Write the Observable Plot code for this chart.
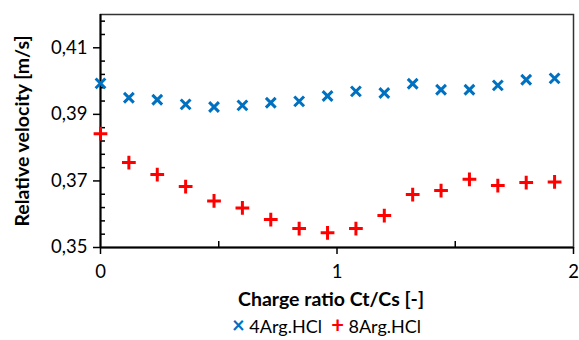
<!DOCTYPE html>
<html><head><meta charset="utf-8">
<script src="https://cdn.jsdelivr.net/npm/d3@7"></script>
<script src="https://cdn.jsdelivr.net/npm/@observablehq/plot@0.6"></script>
<style>
body{margin:0;background:#fff;font-family:Lato,"Open Sans",sans-serif;}
#legend{position:relative;height:26px;width:579px;font-size:18px;color:#000;}
#legend .in{position:absolute;left:232px;top:1px;white-space:nowrap;}
#legend .sym{font-weight:bold;font-size:22px;line-height:18px;}
</style></head><body>
<div id="chart"></div>
<div id="legend"><div class="in"><span class="sym" style="color:#0070C0">×</span> 4Arg.HCl&nbsp; <span class="sym" style="color:#FF0000">+</span> 8Arg.HCl</div></div>
<script>
const chargeRatio = [0,0.12,0.24,0.36,0.48,0.6,0.72,0.84,0.96,1.08,1.2,1.32,1.44,1.56,1.68,1.8,1.92];
const arg4 = [0.3993,0.3950,0.3944,0.3930,0.3922,0.3927,0.3935,0.3939,0.3955,0.3969,0.3964,0.3992,0.3974,0.3974,0.3987,0.4004,0.4008];
const arg8 = [0.3842,0.3755,0.3719,0.3683,0.3640,0.3619,0.3584,0.3557,0.3544,0.3557,0.3596,0.3659,0.3671,0.3705,0.3686,0.3695,0.3697];
const yTicks = [0.35,0.37,0.39,0.41];
const yMinor = d3.range(0,18).map(i=>+(0.35+i*0.004).toFixed(3)).filter(v=>!yTicks.some(t=>Math.abs(t-v)<1e-9));
const xTicks = [0,1,2];
const xMinor = [0.5,1.5];
const series = [
  {name:"4Arg.HCl", values:arg4, color:"#0070C0", symbol:"times"},
  {name:"8Arg.HCl", values:arg8, color:"#FF0000", symbol:"plus"}
];
const rows = series.flatMap(s=>chargeRatio.map((x,i)=>({x, y:s.values[i], series:s.name})));
const fmt = v => d3.format(".2f")(v).replace(".", ",");
const blank = () => "";
const chart = Plot.plot({
  width:579, height:314,
  marginLeft:100, marginTop:14, marginRight:6, marginBottom:67,
  style:{fontFamily:"Lato, 'Open Sans', sans-serif", fontSize:"18px", color:"#000", background:"#fff"},
  x:{domain:[0,2]},
  y:{domain:[0.35,0.42]},
  color:{domain:series.map(s=>s.name), range:series.map(s=>s.color)},
  symbol:{domain:series.map(s=>s.name), range:series.map(s=>s.symbol)},
  marks:[
    Plot.frame({stroke:"#333", strokeWidth:1.5}),
    Plot.axisY({ticks:yTicks, tickSize:7, tickPadding:6, tickFormat:fmt, label:null, strokeWidth:1.5, fontSize:18.5}),
    Plot.axisY({ticks:yMinor, tickSize:-5, tickFormat:blank, label:null, strokeWidth:1.5}),
    Plot.axisX({ticks:xTicks, tickSize:7, tickPadding:10, tickFormat:d=>String(d), label:null, strokeWidth:1.5, fontSize:18.5}),
    Plot.axisX({ticks:xMinor, tickSize:-6, tickFormat:blank, label:null, strokeWidth:1.5}),
    Plot.ruleX([0], {stroke:"#000", strokeWidth:2}),
    Plot.ruleY([0.35], {stroke:"#000", strokeWidth:2}),
    Plot.dot(rows, {x:"x", y:"y", symbol:"series", stroke:"series", r:4.5, strokeWidth:3}),
    Plot.text(["Charge ratio Ct/Cs [-]"], {frameAnchor:"bottom", dy:58, dx:-6, fontWeight:"bold", fontSize:19.5}),
    Plot.text(["Relative velocity [m/s]"], {frameAnchor:"left", textAnchor:"middle", rotate:-90, dx:-78, fontWeight:"bold", fontSize:19.5})
  ]
});
document.getElementById("chart").appendChild(chart);
</script>
</body></html>
